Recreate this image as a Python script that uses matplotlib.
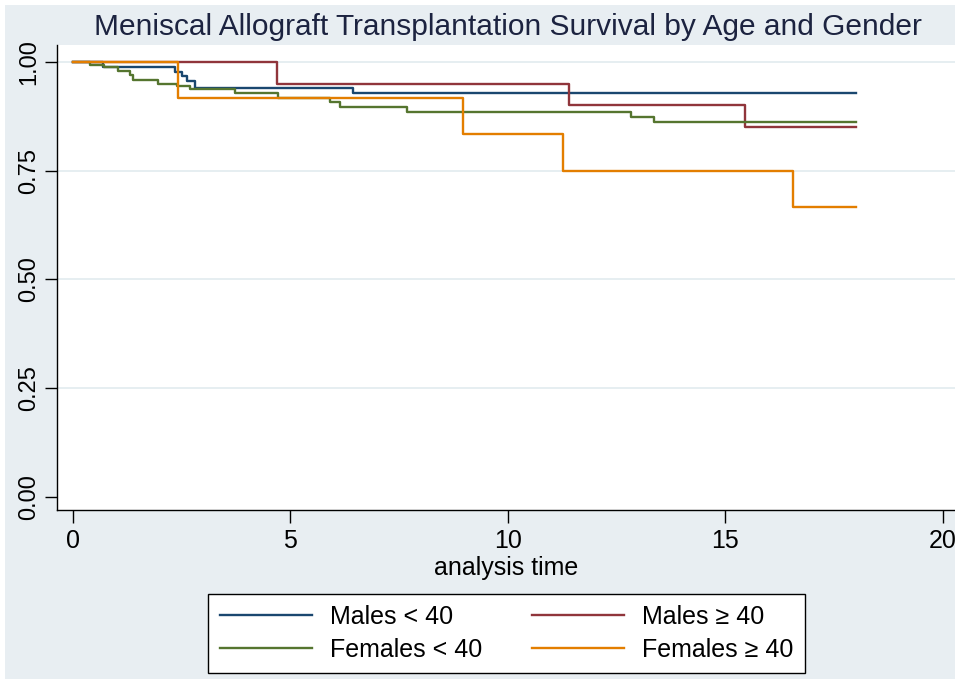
import matplotlib
matplotlib.use("Agg")
import matplotlib.pyplot as plt
from matplotlib.lines import Line2D
from matplotlib.patches import Rectangle

plt.rcParams['font.family'] = ['Liberation Sans', 'DejaVu Sans']

# Kaplan-Meier step estimates (time in years, survival probability)
males_lt40_t = [0.0, 0.70, 2.35, 2.50, 2.62, 2.80, 6.44, 18.0]
males_lt40_s = [1.0, 0.989, 0.978, 0.967, 0.956, 0.940, 0.929, 0.929]

males_ge40_t = [0.0, 4.70, 11.41, 15.45, 18.0]
males_ge40_s = [1.0, 0.950, 0.900, 0.850, 0.850]

females_lt40_t = [0.0, 0.39, 0.72, 1.04, 1.31, 1.39, 1.96, 2.38, 2.69, 3.72,
                  4.72, 5.91, 6.14, 7.69, 12.83, 13.36, 18.0]
females_lt40_s = [1.0, 0.993, 0.988, 0.980, 0.970, 0.959, 0.949, 0.944, 0.938,
                  0.928, 0.918, 0.909, 0.897, 0.884, 0.874, 0.862, 0.862]

females_ge40_t = [0.0, 2.42, 8.97, 11.27, 16.56, 18.0]
females_ge40_s = [1.0, 0.9167, 0.8333, 0.75, 0.6667, 0.6667]

series_labels = ["Males < 40", "Males \u2265 40", "Females < 40", "Females \u2265 40"]
series_colors = ["#1a476f", "#90353b", "#55752f", "#e37e00"]

x_ticks = [0, 5, 10, 15, 20]
y_ticks = [0.0, 0.25, 0.50, 0.75, 1.00]
y_tick_labels = ["0.00", "0.25", "0.50", "0.75", "1.00"]

W, H = 955, 679
fig = plt.figure(figsize=(W / 100, H / 100), dpi=100, facecolor="white")

# Stata-style graph region
bg = "#e8eef2"
fig.patches.append(Rectangle((5 / W, 0), 1, 1 - 5 / H, transform=fig.transFigure,
                             facecolor=bg, edgecolor="none", zorder=-10))

ax = fig.add_axes([57 / W, 1 - 510 / H, 1 - 57 / W, (510 - 45) / H])
ax.set_zorder(1)
ax.set_facecolor("white")
ax.set_xlim(-0.368, 20.28)
ax.set_ylim(-0.030, 1.039)

for sp in ["top", "right"]:
    ax.spines[sp].set_visible(False)
for sp in ["left", "bottom"]:
    ax.spines[sp].set_color("black")
    ax.spines[sp].set_linewidth(1.0)

for y in [0.25, 0.50, 0.75, 1.00]:
    ax.axhline(y, color="#e6eef1", lw=1.4, zorder=1)

all_series = [
    (males_lt40_t, males_lt40_s),
    (males_ge40_t, males_ge40_s),
    (females_lt40_t, females_lt40_s),
    (females_ge40_t, females_ge40_s),
]
handles = []
for (t, s), lab, col in zip(all_series, series_labels, series_colors):
    ax.plot(t, s, drawstyle="steps-post", color=col, lw=1.7, zorder=3)
    handles.append(Line2D([], [], color=col, lw=1.7, label=lab))

ax.set_xticks(x_ticks)
ax.set_xticklabels([str(v) for v in x_ticks], fontsize=18)
ax.set_yticks(y_ticks)
ax.set_yticklabels(y_tick_labels, fontsize=17, rotation=90, va="center")
ax.tick_params(axis="both", direction="out", length=9, width=1.0, color="black")
ax.tick_params(axis="x", pad=5)
ax.tick_params(axis="y", pad=3)

ax.set_xlabel("analysis time", fontsize=18, labelpad=2)

fig.text(508 / W, 1 - 27 / H, "Meniscal Allograft Transplantation Survival by Age and Gender",
         ha="center", va="center", fontsize=21.5, color="#1c2340")

order = [0, 2, 1, 3]
leg = fig.legend([handles[i] for i in order], [series_labels[i] for i in order],
                 ncol=2, loc="center", bbox_to_anchor=(506.5 / W, 1 - 633.5 / H),
                 frameon=True, fancybox=False, framealpha=1, edgecolor="black",
                 facecolor="white", fontsize=18, handlelength=3.7,
                 handletextpad=0.7, columnspacing=2.0, labelspacing=0.35,
                 borderpad=0.45)
leg.get_frame().set_linewidth(1.0)

fig.savefig("out.png", dpi=100, facecolor=fig.get_facecolor())
